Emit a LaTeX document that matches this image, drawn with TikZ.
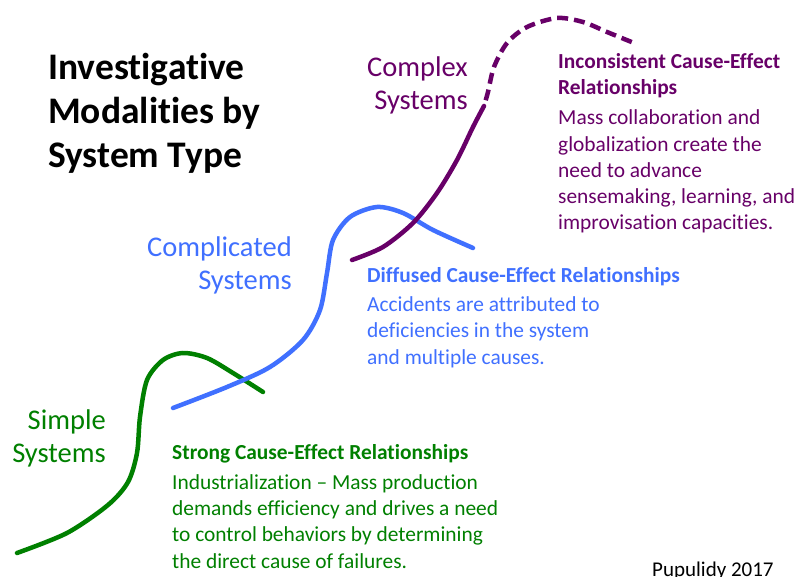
\documentclass[tikz,border=0pt]{standalone}
\usepackage{fontspec}
\setmainfont[Ligatures={TeX,NoCommon}]{Carlito}
\usetikzlibrary{positioning}
\definecolor{simple}{RGB}{0,128,0}
\definecolor{complicated}{RGB}{64,112,255}
\definecolor{complex}{RGB}{104,0,104}

\begin{document}
\begin{tikzpicture}[x=1pt,y=-1pt,
    curve/.style={line width=4.5pt,line cap=round},
    syslabel/.style={inner sep=0pt,anchor=base east,align=right,font=\fontsize{28.5}{33}\selectfont},
    relbox/.style={inner sep=0pt,anchor=base west,align=left,font=\fontsize{21.4}{26.3}\selectfont}]
    \useasboundingbox[fill=white] (0,0) rectangle (795,577);

    % Titre (ancre sur la derniere ligne)
    \node[inner sep=0pt,anchor=base west,align=left,font=\fontsize{37.5}{44}\selectfont\bfseries]
        (title) at (48,168) {Investigative\\Modalities by\\System Type};

    % Courbe simple
    \draw[curve,simple] plot[smooth] coordinates {(17,553) (67,533) (108,505) (128,482) (137,453)
        (140,417) (147,380) (163,360) (183,353) (207,358) (233,373) (263,392)};
    % Courbe compliquee
    \draw[curve,complicated] plot[smooth] coordinates {(173,408) (227,387) (270,367) (303,340)
        (320,310) (327,273) (333,240) (350,217) (377,207) (403,213) (433,230) (473,248)};
    % Courbe complexe (pleine puis pointillee)
    \draw[curve,complex] plot[smooth] coordinates {(352,260) (383,247) (413,223) (437,193)
        (457,160) (473,127) (484,106)};
    \draw[curve,complex,line cap=butt,dash pattern=on 11pt off 6pt,dash phase=11pt] plot[smooth]
        coordinates {(484,106) (488,92) (494,67) (507,43) (527,27) (557,18) (583,22) (607,32) (634,43)};

    % Etiquettes des systemes
    \node[syslabel,text=simple] (simplesys) at (106,462) {Simple\\Systems};
    \node[syslabel,text=complicated] (complicatedsys) at (292,290) {Complicated\\Systems};
    \node[syslabel,text=complex] (complexsys) at (468,110) {Complex\\Systems};

    % Relations cause-effet
    \node[relbox,text=simple] (strong) at (172,568) {\textbf{Strong Cause-Effect Relationships}\\[3.5pt]
        Industrialization -- Mass production\\demands efficiency and drives a need\\
        to control behaviors by determining\\the direct cause of failures.};
    \node[relbox,text=complicated] (diffused) at (367,364) {\textbf{Diffused Cause-Effect Relationships}\\[3pt]
        Accidents are attributed to\\deficiencies in the system\\and multiple causes.};
    \node[relbox,text=complex] (inconsistent) at (558,230) {\textbf{Inconsistent Cause-Effect}\\
        \textbf{Relationships}\\[3.5pt]
        Mass collaboration and\\globalization create the\\need to advance\\
        sensemaking, learning, and\\improvisation capacities.};

    % Source
    \node[inner sep=0pt,anchor=base west,font=\fontsize{21}{24}\selectfont] (source) at (652,576) {Pupulidy 2017};
\end{tikzpicture}
\end{document}
